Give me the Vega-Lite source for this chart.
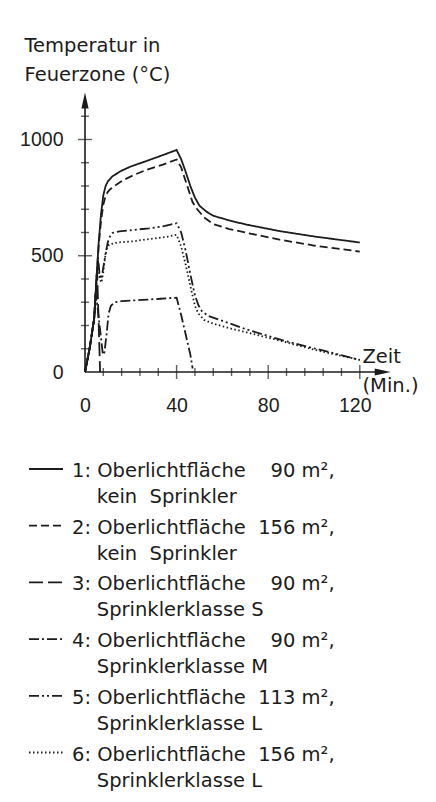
{
  "$schema": "https://vega.github.io/schema/vega-lite/v6.json",
  "autosize": {"type": "none"},
  "width": 308,
  "height": 279,
  "padding": {"left": 85, "top": 93, "right": 43, "bottom": 430},
  "background": "#ffffff",
  "config": {"view": {"stroke": null}, "font": "DejaVu Sans"},
  "datasets": {
    "series": [
      {"s": 1, "label": "1: Oberlichtfläche\u00a0\u00a0\u00a0\u00a090 m²,|\u200b\u00a0\u00a0\u00a0\u00a0kein\u00a0\u00a0Sprinkler"},
      {"s": 2, "label": "2: Oberlichtfläche\u00a0\u00a0156 m²,|\u200b\u00a0\u00a0\u00a0\u00a0kein\u00a0\u00a0Sprinkler"},
      {"s": 3, "label": "3: Oberlichtfläche\u00a0\u00a0\u00a0\u00a090 m²,|\u200b\u00a0\u00a0\u00a0\u00a0Sprinklerklasse S"},
      {"s": 4, "label": "4: Oberlichtfläche\u00a0\u00a0\u00a0\u00a090 m²,|\u200b\u00a0\u00a0\u00a0\u00a0Sprinklerklasse M"},
      {"s": 5, "label": "5: Oberlichtfläche\u00a0\u00a0113 m²,|\u200b\u00a0\u00a0\u00a0\u00a0Sprinklerklasse L"},
      {"s": 6, "label": "6: Oberlichtfläche\u00a0\u00a0156 m²,|\u200b\u00a0\u00a0\u00a0\u00a0Sprinklerklasse L"}
    ],
    "curves": [
      {"s":1,"t":0,"T":0},{"s":1,"t":2,"T":100},{"s":1,"t":4,"T":230},{"s":1,"t":5,"T":400},{"s":1,"t":6,"T":560},{"s":1,"t":7,"T":680},{"s":1,"t":8,"T":760},{"s":1,"t":9,"T":800},{"s":1,"t":10,"T":820},{"s":1,"t":12,"T":842},{"s":1,"t":16,"T":866},{"s":1,"t":20,"T":884},{"s":1,"t":27,"T":908},{"s":1,"t":34,"T":933},{"s":1,"t":40,"T":955},{"s":1,"t":42,"T":915},{"s":1,"t":44,"T":860},{"s":1,"t":46,"T":800},{"s":1,"t":48,"T":750},{"s":1,"t":50,"T":715},{"s":1,"t":53,"T":690},{"s":1,"t":56,"T":672},{"s":1,"t":63,"T":652},{"s":1,"t":70,"T":635},{"s":1,"t":85,"T":606},{"s":1,"t":100,"T":583},{"s":1,"t":120,"T":557},
      {"s":2,"t":0,"T":0},{"s":2,"t":2,"T":100},{"s":2,"t":4,"T":230},{"s":2,"t":5,"T":400},{"s":2,"t":6,"T":545},{"s":2,"t":7,"T":650},{"s":2,"t":8,"T":720},{"s":2,"t":9,"T":758},{"s":2,"t":10,"T":775},{"s":2,"t":11,"T":786},{"s":2,"t":14,"T":808},{"s":2,"t":17,"T":827},{"s":2,"t":22,"T":850},{"s":2,"t":27,"T":870},{"s":2,"t":34,"T":892},{"s":2,"t":40,"T":914},{"s":2,"t":42,"T":880},{"s":2,"t":44,"T":820},{"s":2,"t":46,"T":760},{"s":2,"t":47,"T":730},{"s":2,"t":49,"T":700},{"s":2,"t":52,"T":665},{"s":2,"t":56,"T":636},{"s":2,"t":63,"T":615},{"s":2,"t":70,"T":600},{"s":2,"t":85,"T":569},{"s":2,"t":100,"T":544},{"s":2,"t":120,"T":518},
      {"s":3,"t":0,"T":0},{"s":3,"t":2,"T":100},{"s":3,"t":4,"T":230},{"s":3,"t":5.3,"T":430},{"s":3,"t":6.6,"T":0},
      {"s":4,"t":0,"T":0},{"s":4,"t":2,"T":100},{"s":4,"t":4,"T":230},{"s":4,"t":4.9,"T":330},{"s":4,"t":6.5,"T":190},{"s":4,"t":7.8,"T":75},{"s":4,"t":8.5,"T":85},{"s":4,"t":9.5,"T":170},{"s":4,"t":10.3,"T":250},{"s":4,"t":11.3,"T":285},{"s":4,"t":13,"T":300},{"s":4,"t":16,"T":305},{"s":4,"t":25,"T":310},{"s":4,"t":33,"T":315},{"s":4,"t":40,"T":320},{"s":4,"t":42,"T":245},{"s":4,"t":44,"T":160},{"s":4,"t":46,"T":75},{"s":4,"t":47,"T":15},
      {"s":5,"t":0,"T":0},{"s":5,"t":2,"T":100},{"s":5,"t":4,"T":230},{"s":5,"t":5.3,"T":440},{"s":5,"t":5.8,"T":480},{"s":5,"t":6.4,"T":415},{"s":5,"t":7.2,"T":400},{"s":5,"t":8,"T":450},{"s":5,"t":9,"T":510},{"s":5,"t":10,"T":560},{"s":5,"t":11,"T":585},{"s":5,"t":12,"T":598},{"s":5,"t":15,"T":605},{"s":5,"t":21,"T":611},{"s":5,"t":28,"T":618},{"s":5,"t":35,"T":628},{"s":5,"t":40,"T":640},{"s":5,"t":42,"T":600},{"s":5,"t":44,"T":520},{"s":5,"t":46,"T":420},{"s":5,"t":48,"T":330},{"s":5,"t":49.5,"T":288},{"s":5,"t":51,"T":262},{"s":5,"t":54,"T":240},{"s":5,"t":60,"T":220},{"s":5,"t":70,"T":185},{"s":5,"t":85,"T":140},{"s":5,"t":100,"T":102},{"s":5,"t":120,"T":52},
      {"s":6,"t":0,"T":0},{"s":6,"t":2,"T":100},{"s":6,"t":4,"T":230},{"s":6,"t":5.3,"T":440},{"s":6,"t":5.8,"T":470},{"s":6,"t":6.4,"T":400},{"s":6,"t":7.2,"T":385},{"s":6,"t":8,"T":430},{"s":6,"t":8.8,"T":495},{"s":6,"t":9.5,"T":530},{"s":6,"t":10.5,"T":548},{"s":6,"t":14,"T":557},{"s":6,"t":21,"T":562},{"s":6,"t":28,"T":572},{"s":6,"t":35,"T":580},{"s":6,"t":40,"T":590},{"s":6,"t":42,"T":540},{"s":6,"t":44,"T":460},{"s":6,"t":46,"T":370},{"s":6,"t":48,"T":285},{"s":6,"t":49.5,"T":252},{"s":6,"t":52,"T":224},{"s":6,"t":56,"T":208},{"s":6,"t":64,"T":186},{"s":6,"t":70,"T":172},{"s":6,"t":85,"T":135},{"s":6,"t":100,"T":96},{"s":6,"t":120,"T":52}
    ],
    "axislines": [
      {"dir": "x", "t": 0, "T": 0, "t2": 131, "T2": 0},
      {"dir": "y", "t": 0, "T": 0, "t2": 0, "T2": 1160}
    ],
    "arrows": [
      {"dir": "x", "t": 130, "T": 0},
      {"dir": "y", "t": 0, "T": 1168}
    ],
    "ticks": [
      {"dir":"y","t":0,"T":100,"major":false},{"dir":"y","t":0,"T":200,"major":false},{"dir":"y","t":0,"T":300,"major":false},{"dir":"y","t":0,"T":400,"major":false},{"dir":"y","t":0,"T":500,"major":true},{"dir":"y","t":0,"T":600,"major":false},{"dir":"y","t":0,"T":700,"major":false},{"dir":"y","t":0,"T":800,"major":false},{"dir":"y","t":0,"T":900,"major":false},{"dir":"y","t":0,"T":1000,"major":true},{"dir":"y","t":0,"T":1100,"major":false},
      {"dir":"x","t":8,"T":0,"major":false},{"dir":"x","t":16,"T":0,"major":false},{"dir":"x","t":24,"T":0,"major":false},{"dir":"x","t":32,"T":0,"major":false},{"dir":"x","t":40,"T":0,"major":true},{"dir":"x","t":48,"T":0,"major":false},{"dir":"x","t":56,"T":0,"major":false},{"dir":"x","t":64,"T":0,"major":false},{"dir":"x","t":72,"T":0,"major":false},{"dir":"x","t":80,"T":0,"major":true},{"dir":"x","t":88,"T":0,"major":false},{"dir":"x","t":96,"T":0,"major":false},{"dir":"x","t":104,"T":0,"major":false},{"dir":"x","t":112,"T":0,"major":false},{"dir":"x","t":120,"T":0,"major":true}
    ]
  },
  "encoding": {
    "x": {
      "field": "t", "type": "quantitative",
      "scale": {"domain": [0, 134.5], "nice": false, "zero": false},
      "axis": {
        "values": [0, 40, 80, 120], "format": "d", "domain": false, "ticks": false, "grid": false,
        "labelPadding": 24, "labelFont": "Liberation Sans",
        "labelOffset": {"condition": {"test": "datum.value == 120", "value": -5}, "value": 0},
        "labelFontSize": 19.5, "labelColor": "#1c1c1c", "labelFlush": false, "labelOverlap": false,
        "title": ["Zeit", "\u00a0(Min.)"], "titleX": 277, "titleY": -10, "titleAlign": "left",
        "titleBaseline": "alphabetic", "titleLineHeight": 29, "titleFont": "DejaVu Sans",
        "titleFontSize": 19.5, "titleFontWeight": "normal", "titleColor": "#1c1c1c"
      }
    },
    "y": {
      "field": "T", "type": "quantitative",
      "scale": {"domain": [0, 1200], "nice": false, "zero": false},
      "axis": {
        "values": [0, 500, 1000], "format": "d", "domain": false, "ticks": false, "grid": false,
        "labelPadding": 22, "labelFont": "Liberation Sans",
        "labelFontSize": 19.5, "labelColor": "#1c1c1c", "labelFlush": false, "labelOverlap": false,
        "title": ["Temperatur in", "Feuerzone (°C)"], "titleAngle": 0, "titleAlign": "left",
        "titleBaseline": "alphabetic", "titleX": -61, "titleY": -42, "titleLineHeight": 29.5,
        "titleFont": "DejaVu Sans", "titleFontSize": 19.5, "titleFontWeight": "normal", "titleColor": "#1c1c1c"
      }
    }
  },
  "layer": [
    {
      "data": {"name": "curves"},
      "transform": [{"lookup": "s", "from": {"data": {"name": "series"}, "key": "s", "fields": ["label"]}}],
      "mark": {"type": "line", "color": "#1c1c1c", "strokeWidth": 1.8, "interpolate": "linear"},
      "encoding": {
        "strokeDash": {
          "field": "label", "type": "nominal",
          "scale": {"range": [[1, 0], [8, 4], [14, 5], [10, 3, 2, 3], [10, 3, 2, 3, 2, 3], [1.5, 2.5]]},
          "legend": {
            "orient": "none", "legendX": -57, "legendY": 358, "title": null, "padding": 0,
            "symbolType": "stroke", "symbolSize": 1156, "symbolStrokeWidth": 1.8, "symbolStrokeColor": "#1c1c1c",
            "labelExpr": "split(datum.label, '|')", "labelFont": "DejaVu Sans", "labelFontSize": 19.5,
            "labelColor": "#1c1c1c", "labelLimit": 400, "labelOffset": 8, "labelBaseline": "alphabetic",
            "rowPadding": 0.7,
            "encode": {"labels": {"update": {"dy": {"value": 8}, "lineHeight": {"value": 26}}}}
          }
        }
      }
    },
    {
      "data": {"name": "axislines"},
      "mark": {"type": "rule", "color": "#1c1c1c", "strokeWidth": 1.6},
      "encoding": {"x2": {"field": "t2"}, "y2": {"field": "T2"}}
    },
    {
      "data": {"name": "ticks"},
      "transform": [{"filter": "datum.dir == 'y' && !datum.major"}],
      "mark": {"type": "tick", "orient": "horizontal", "size": 8, "thickness": 1.4, "color": "#1c1c1c"}
    },
    {
      "data": {"name": "ticks"},
      "transform": [{"filter": "datum.dir == 'y' && datum.major"}],
      "mark": {"type": "tick", "orient": "horizontal", "size": 14, "thickness": 1.4, "color": "#1c1c1c"}
    },
    {
      "data": {"name": "ticks"},
      "transform": [{"filter": "datum.dir == 'x' && !datum.major"}],
      "mark": {"type": "tick", "orient": "vertical", "size": 8, "thickness": 1.4, "color": "#1c1c1c"}
    },
    {
      "data": {"name": "ticks"},
      "transform": [{"filter": "datum.dir == 'x' && datum.major"}],
      "mark": {"type": "tick", "orient": "vertical", "size": 14, "thickness": 1.4, "color": "#1c1c1c"}
    },
    {
      "data": {"name": "arrows"},
      "transform": [{"filter": "datum.dir == 'y'"}],
      "mark": {"type": "point", "shape": "M0,-1L0.45,1L-0.45,1Z", "size": 256, "filled": true, "color": "#1c1c1c", "opacity": 1}
    },
    {
      "data": {"name": "arrows"},
      "transform": [{"filter": "datum.dir == 'x'"}],
      "mark": {"type": "point", "shape": "M1,0L-1,0.45L-1,-0.45Z", "size": 256, "filled": true, "color": "#1c1c1c", "opacity": 1}
    }
  ]
}
